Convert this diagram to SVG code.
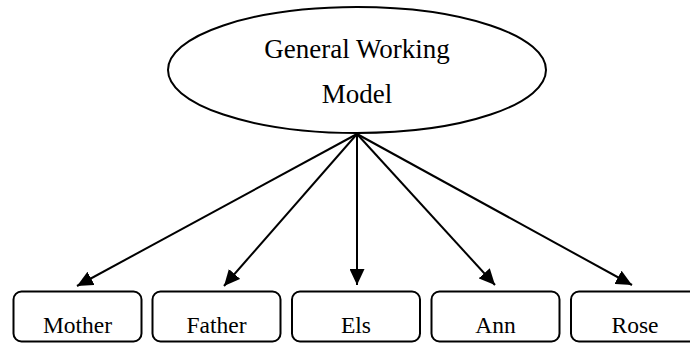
<svg xmlns="http://www.w3.org/2000/svg" width="690" height="343" viewBox="0 0 690 343">
  <defs>
    <marker id="arrow" markerUnits="userSpaceOnUse" markerWidth="17" markerHeight="15" refX="16" refY="7.5" orient="auto">
      <path d="M0,0 L16,7.5 L0,15 z" fill="#000"/>
    </marker>
    <style>
      .shape { fill: #fff; stroke: #000; stroke-width: 2; }
      .edge { stroke: #000; stroke-width: 2; fill: none; marker-end: url(#arrow); }
      text { fill: #000; text-anchor: middle; }
    </style>
  </defs>
  <rect width="690" height="343" fill="#fff"/>

  <g id="general-working-model" font-family="Liberation Serif, DejaVu Serif, serif" font-size="27">
    <ellipse class="shape" cx="357" cy="70" rx="189" ry="63"/>
    <text x="357" y="58">General Working</text>
    <text x="357" y="103">Model</text>
  </g>

  <g id="connectors">
    <line class="edge" x1="357" y1="134" x2="77" y2="286"/>
    <line class="edge" x1="357" y1="134" x2="224" y2="286"/>
    <line class="edge" x1="357" y1="134" x2="357" y2="285"/>
    <line class="edge" x1="357" y1="134" x2="495" y2="285"/>
    <line class="edge" x1="357" y1="134" x2="632" y2="285"/>
  </g>

  <g font-family="Liberation Serif, DejaVu Serif, serif" font-size="23.5">
    <g id="mother">
      <rect class="shape" x="13.5" y="291.5" width="128" height="50" rx="8"/>
      <text x="77.5" y="333">Mother</text>
    </g>
    <g id="father">
      <rect class="shape" x="152.5" y="291.5" width="128" height="50" rx="8"/>
      <text x="216.5" y="333">Father</text>
    </g>
    <g id="els">
      <rect class="shape" x="292" y="291.5" width="128" height="50" rx="8"/>
      <text x="356" y="333">Els</text>
    </g>
    <g id="ann">
      <rect class="shape" x="431.5" y="291.5" width="128" height="50" rx="8"/>
      <text x="495.5" y="333">Ann</text>
    </g>
    <g id="rose">
      <rect class="shape" x="571" y="291.5" width="128" height="50" rx="8"/>
      <text x="635" y="333">Rose</text>
    </g>
  </g>
</svg>
